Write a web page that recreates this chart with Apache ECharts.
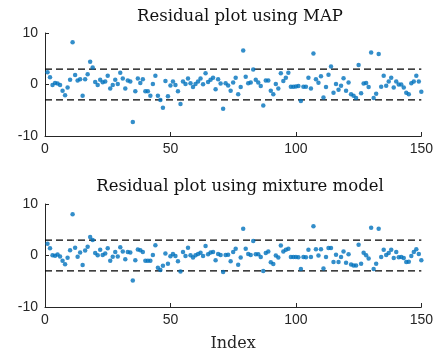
<!DOCTYPE html>
<html>
<head>
<meta charset="utf-8">
<script src="https://cdn.jsdelivr.net/npm/echarts@6/dist/echarts.min.js"></script>
<style>
  html, body { margin: 0; padding: 0; background: #fff; }
  #chart { width: 436px; height: 354px; }
</style>
</head>
<body>
<div id="chart"></div>
<script>
// residuals per observation index 1..150
const mapResiduals = [
  2.4, 1.4, -0.1, 0.3, 0.2, -0.1, -1.2, -2.1, -0.6, 0.9,
  8.2, 1.85, 0.8, 1.0, -2.2, 1.0, 2.0, 4.4, 3.3, 0.5,
  -0.1, 0.9, 0.45, 0.6, 1.7, -0.8, -0.1, 0.9, 0.1, 2.3,
  1.15, -0.8, 0.8, 0.6, -7.3, -1.3, 1.15, 0.3, 1.0, -1.3,
  -1.3, -2.2, 0.1, 1.7, -2.2, -3.0, -4.5, 0.7, -2.3, -0.2,
  0.6, -0.1, -1.3, -3.8, 0.6, 0.1, 1.15, 0.25, -0.5, 0.1,
  0.6, 1.15, 0.05, 2.2, 0.5, 0.9, 1.3, -0.9, 1.0, 0.2,
  -4.7, 0.25, -0.2, -1.2, 0.4, 1.3, -1.9, -0.5, 6.6, 1.5,
  0.25, 0.4, 2.9, 0.9, 0.4, -0.3, -4.1, 0.8, 0.8, -1.2,
  -1.9, 0.1, -0.8, 2.2, 0.7, 1.3, 2.3, -0.45, -0.45, -0.4,
  -0.3, -3.2, -0.45, -0.45, 1.3, -0.8, 6.0, 1.0, 0.35, 1.6,
  -2.5, -0.5, 1.9, 3.5, -1.6, 0.1, -1.0, -0.25, 1.2, -1.2,
  0.4, -1.9, -2.2, -2.6, 3.8, -1.7, 0.2, 0.3, -0.5, 6.2,
  -2.6, -1.8, 5.9, -0.45, 1.7, -0.25, 0.6, 1.3, -0.6, 0.6,
  0.0, 0.0, -0.6, -1.6, -1.9, 0.25, 0.6, 1.7, 0.6, -1.4
]
const mixtureResiduals = [
  2.3, 1.4, 0.05, -0.05, 0.2, -0.2, -1.0, -1.7, -0.45, 1.0,
  8.0, 1.5, -0.25, 0.6, -1.85, 0.95, 1.7, 3.6, 3.0, 0.5,
  0.05, 1.1, 0.1, 0.4, 1.4, -1.0, -0.25, 0.7, -0.2, 1.6,
  0.8, -0.75, 0.7, 0.6, -4.85, -0.9, 1.15, 1.0, 0.7, -1.0,
  -1.0, -1.0, 0.1, 2.0, -2.4, -2.8, -2.0, 0.4, -1.6, -0.15,
  0.3, -0.1, -1.1, -3.1, 0.7, -0.1, 1.5, 0.05, -0.4, 0.05,
  0.3, 0.55, -0.1, 1.85, 0.25, 0.6, 0.7, -0.9, 0.3, 0.1,
  -3.2, 0.1, 0.15, -1.1, 0.7, 1.3, -1.8, -0.4, 5.2, 1.3,
  0.3, 0.1, 2.8, 0.25, 0.25, -0.3, -3.0, 0.5, 0.8, -1.3,
  -1.65, 0.0, -0.4, 1.95, 0.8, 1.1, 1.3, -0.3, -0.3, -0.3,
  -0.35, -2.6, -0.3, -0.35, 1.1, -0.3, 5.7, 1.2, 0.0, 1.2,
  -2.5, -0.3, 1.45, 1.45, -1.25, 0.15, -1.25, -0.3, 0.8, -1.4,
  0.25, -1.75, -1.95, -1.95, 2.1, -1.6, 0.55, 0.05, -0.6, 5.4,
  -2.6, -1.6, 5.2, -0.3, 1.1, 0.1, 0.5, 1.1, -0.5, 0.7,
  -0.35, -0.3, -0.5, -1.25, -1.2, -0.1, 0.7, 1.2, 0.3, -0.9
]
const titles = ['Residual plot using MAP', 'Residual plot using mixture model']
const xLabel = 'Index'
const bound = 3 // dashed limits at +/- bound
const xRange = [0, 150]
const yRange = [-10, 10]

const axisColor = '#262626'
const dotColor = '#0072BD'
const serif = 'DejaVu Serif'

const chart = echarts.init(document.getElementById('chart'), null, { renderer: 'canvas' })

const makeX = (gridIndex, withName) => ({
  type: 'value',
  gridIndex,
  min: xRange[0],
  max: xRange[1],
  interval: 50,
  name: withName ? xLabel : '',
  nameLocation: 'middle',
  nameGap: 29,
  nameTextStyle: { fontFamily: serif, fontSize: 16, color: axisColor },
  axisLine: { show: true, onZero: false, lineStyle: { color: axisColor, width: 1 } },
  axisTick: { show: true, inside: true, length: 4, lineStyle: { color: axisColor } },
  axisLabel: { color: axisColor, fontFamily: 'Liberation Sans', fontSize: 14, margin: 6 },
  splitLine: { show: false }
})

const makeY = (gridIndex) => ({
  type: 'value',
  gridIndex,
  min: yRange[0],
  max: yRange[1],
  interval: 10,
  axisLine: { show: true, onZero: false, lineStyle: { color: axisColor, width: 1 } },
  axisTick: { show: true, inside: true, length: 4, lineStyle: { color: axisColor } },
  axisLabel: { color: axisColor, fontFamily: 'Liberation Sans', fontSize: 14, margin: 7 },
  splitLine: { show: false }
})

const limitLines = (idx) => [bound, -bound].map(v => ({
  type: 'line',
  xAxisIndex: idx,
  yAxisIndex: idx,
  data: [[xRange[0], v], [xRange[1], v]],
  symbol: 'none',
  silent: true,
  lineStyle: { color: '#000', width: 1.2, type: [7, 4] },
  z: 1
}))

const dots = (idx, values) => ({
  type: 'scatter',
  xAxisIndex: idx,
  yAxisIndex: idx,
  data: values.map((v, i) => [i + 1, v]),
  symbolSize: 4.5,
  itemStyle: { color: dotColor },
  z: 3
})

const option = {
  animation: false,
  backgroundColor: '#fff',
  title: titles.map((t, i) => ({
    text: t,
    left: 235,
    textAlign: 'center',
    top: i === 0 ? 3 : 173,
    textStyle: { fontFamily: serif, fontSize: 16.5, fontWeight: 'normal', color: '#111' }
  })),
  grid: [
    { left: 45, right: 11, top: 33, height: 103 },
    { left: 45, right: 11, top: 204, height: 103 }
  ],
  xAxis: [makeX(0, false), makeX(1, true)],
  yAxis: [makeY(0), makeY(1)],
  series: [
    ...limitLines(0),
    ...limitLines(1),
    dots(0, mapResiduals),
    dots(1, mixtureResiduals)
  ]
}

chart.setOption(option)
</script>
</body>
</html>
